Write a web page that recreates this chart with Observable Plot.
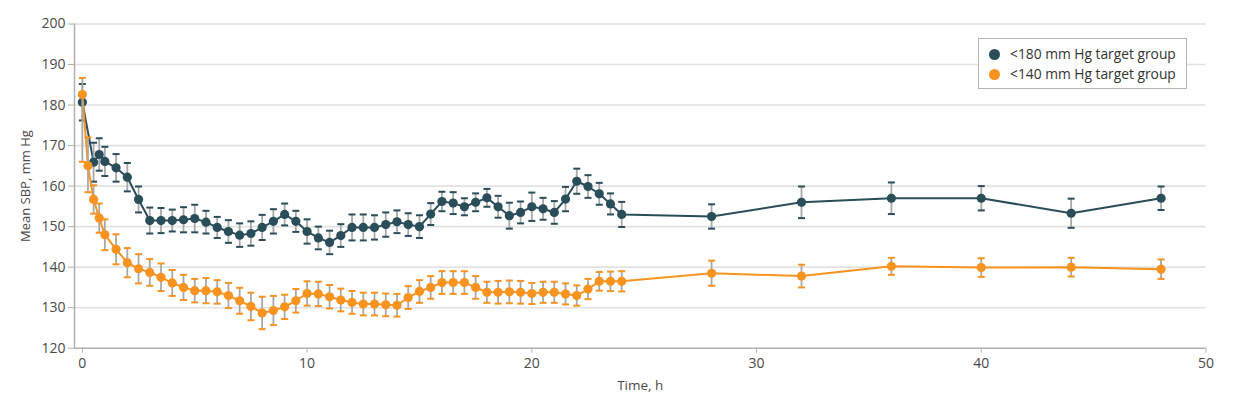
<!DOCTYPE html>
<html>
<head>
<meta charset="utf-8">
<script src="https://cdn.jsdelivr.net/npm/d3@7"></script>
<script src="https://cdn.jsdelivr.net/npm/@observablehq/plot@0.6"></script>
<style>
  body { margin: 0; background: #fff; font-family: "Open Sans", sans-serif; }
  #wrap { position: relative; width: 1256px; height: 394px; overflow: hidden; }
  #legend { position: absolute; left: 978px; top: 38px; width: 207px; height: 49px;
    border: 1px solid #b5b5b5; background: #fff; font-size: 13.8px; color: #333; }
  .item { position: absolute; left: 10px; display: flex; align-items: center; line-height: 16px; }
  .sw { width: 11px; height: 11px; border-radius: 50%; margin-right: 10px; }
</style>
</head>
<body>
<div id="wrap"></div>
<script>
// ---- data ----
const seriesNames = ["<180 mm Hg target group", "<140 mm Hg target group"];
const seriesColors = ["#2a4d5a", "#f7931e"];

const timeHigh = [0, 0.5, 0.75, 1, 1.5, 2, 2.5, 3, 3.5, 4, 4.5, 5, 5.5, 6, 6.5, 7, 7.5, 8, 8.5, 9, 9.5, 10, 10.5, 11, 11.5, 12, 12.5, 13, 13.5, 14, 14.5, 15, 15.5, 16, 16.5, 17, 17.5, 18, 18.5, 19, 19.5, 20, 20.5, 21, 21.5, 22, 22.5, 23, 23.5, 24, 28, 32, 36, 40, 44, 48];
const meanHigh = [180.7, 165.9, 167.8, 166.1, 164.5, 162.2, 156.7, 151.5, 151.5, 151.5, 151.7, 152.0, 151.1, 149.8, 148.8, 147.9, 148.3, 149.8, 151.3, 153.0, 151.3, 148.8, 147.2, 146.1, 147.8, 149.8, 149.8, 149.8, 150.5, 151.2, 150.5, 150.0, 153.1, 156.2, 155.8, 154.9, 156.0, 157.1, 154.9, 152.7, 153.5, 154.9, 154.4, 153.5, 156.8, 161.2, 159.9, 158.1, 155.6, 153.0, 152.5, 156.0, 157.0, 157.0, 153.3, 157.0];
const errHigh = [4.5, 4.8, 4.0, 3.6, 3.4, 3.5, 3.2, 3.2, 3.1, 2.7, 3.1, 3.4, 2.8, 2.6, 2.8, 2.9, 3.0, 3.1, 3.0, 2.7, 2.6, 3.0, 2.8, 2.9, 2.8, 3.2, 3.2, 3.0, 3.0, 2.8, 2.8, 2.8, 2.7, 2.4, 2.7, 2.1, 2.2, 2.2, 2.7, 3.2, 2.7, 3.5, 2.7, 2.8, 3.0, 3.1, 2.8, 2.7, 2.6, 3.1, 3.0, 3.9, 3.9, 3.0, 3.6, 2.9];

const timeLow = [0, 0.25, 0.5, 0.75, 1, 1.5, 2, 2.5, 3, 3.5, 4, 4.5, 5, 5.5, 6, 6.5, 7, 7.5, 8, 8.5, 9, 9.5, 10, 10.5, 11, 11.5, 12, 12.5, 13, 13.5, 14, 14.5, 15, 15.5, 16, 16.5, 17, 17.5, 18, 18.5, 19, 19.5, 20, 20.5, 21, 21.5, 22, 22.5, 23, 23.5, 24, 28, 32, 36, 40, 44, 48];
const meanLow = [182.6, 165.0, 156.7, 152.1, 148.0, 144.4, 141.1, 139.6, 138.7, 137.5, 136.1, 135.0, 134.2, 134.2, 133.9, 133.0, 131.7, 130.3, 128.7, 129.3, 130.2, 131.7, 133.5, 133.4, 132.7, 131.9, 131.3, 130.9, 130.9, 130.7, 130.6, 132.5, 134.0, 135.0, 136.2, 136.2, 136.2, 135.0, 133.8, 133.8, 133.9, 133.8, 133.5, 133.8, 133.8, 133.4, 133.0, 134.6, 136.5, 136.5, 136.5, 138.5, 137.8, 140.2, 139.9, 140.0, 139.5];
const errDownLow = [16.6, 6.5, 3.5, 3.6, 3.8, 3.7, 3.6, 3.6, 3.3, 3.4, 3.2, 3.1, 2.9, 3.1, 2.9, 3.1, 3.2, 3.4, 4.0, 3.6, 3.0, 2.9, 3.0, 3.0, 2.9, 2.8, 2.8, 2.8, 2.8, 2.8, 2.8, 2.8, 2.8, 2.8, 2.8, 2.8, 2.8, 2.8, 2.6, 2.8, 2.8, 2.8, 2.6, 2.6, 2.6, 2.6, 2.5, 2.5, 2.3, 2.4, 2.5, 3.1, 2.8, 2.1, 2.3, 2.3, 2.4];
const errUpLow = [4.1, 7.0, 3.5, 3.6, 3.8, 3.7, 3.6, 3.6, 3.3, 3.4, 3.2, 3.1, 2.9, 3.1, 2.9, 3.1, 3.2, 3.4, 4.0, 3.6, 3.0, 2.9, 3.0, 3.0, 2.9, 2.8, 2.8, 2.8, 2.8, 2.8, 2.8, 2.8, 2.8, 2.8, 2.8, 2.8, 2.8, 2.8, 2.6, 2.8, 2.8, 2.8, 2.6, 2.6, 2.6, 2.6, 2.5, 2.5, 2.3, 2.4, 2.5, 3.1, 2.8, 2.1, 2.3, 2.3, 2.4];

const xTicks = [0, 10, 20, 30, 40, 50];
const yTicks = [120, 130, 140, 150, 160, 170, 180, 190, 200];
const xDomain = [-0.35, 50];
const yDomain = [120, 200];

// ---- build tables ----
const high = timeHigh.map((t, i) => ({t, m: meanHigh[i], lo: meanHigh[i] - errHigh[i], hi: meanHigh[i] + errHigh[i]}));
const low = timeLow.map((t, i) => ({t, m: meanLow[i], lo: meanLow[i] - errDownLow[i], hi: meanLow[i] + errUpLow[i]}));

const cap = {draw(ctx, size) { const r = Math.sqrt(size / Math.PI); ctx.moveTo(-r, 0); ctx.lineTo(r, 0); }};

function seriesMarks(data, color) {
  return [
    Plot.line(data, {x: "t", y: "m", stroke: color, strokeWidth: 2}),
    Plot.ruleX(data, {x: "t", y1: "lo", y2: "hi", stroke: "#a8a8a8", strokeWidth: 1.8}),
    Plot.dot(data, {x: "t", y: "lo", symbol: cap, r: 3.5, stroke: color, strokeWidth: 2, fill: "none"}),
    Plot.dot(data, {x: "t", y: "hi", symbol: cap, r: 3.5, stroke: color, strokeWidth: 2, fill: "none"}),
    Plot.dot(data, {x: "t", y: "m", r: 4.6, fill: color, stroke: "none"})
  ];
}

const chart = Plot.plot({
  width: 1256,
  height: 394,
  marginTop: 23.5,
  marginBottom: 46.3,
  marginLeft: 74,
  marginRight: 50.5,
  style: {fontFamily: "'Open Sans', sans-serif", fontSize: "14px", color: "#4a4a4a", background: "transparent"},
  x: {domain: xDomain},
  y: {domain: yDomain},
  marks: [
    Plot.gridY(yTicks.slice(1), {stroke: "#e2e2e2", strokeOpacity: 1, strokeWidth: 1.6}),
    Plot.ruleY([yDomain[0]], {stroke: "#b0b0b0", strokeWidth: 1.5}),
    Plot.ruleX([xDomain[0]], {stroke: "#b0b0b0", strokeWidth: 1.5}),
    Plot.axisX({ticks: xTicks, tickSize: 5, tickPadding: 5, stroke: "#b0b0b0", fontSize: 14, label: null}),
    Plot.axisX({ticks: [], label: "Time, h", labelAnchor: "center", labelArrow: "none", labelOffset: 42, fontSize: 13.5}),
    Plot.axisY({ticks: yTicks, tickSize: 6, tickPadding: 3, stroke: "#b0b0b0", fontSize: 14, label: null}),
    Plot.axisY({ticks: [], label: "Mean SBP, mm Hg", labelAnchor: "center", labelArrow: "none", labelOffset: 54, fontSize: 13}),
    ...seriesMarks(high, seriesColors[0]),
    ...seriesMarks(low, seriesColors[1])
  ]
});

const wrap = document.getElementById("wrap");
wrap.appendChild(chart);

const legend = document.createElement("div");
legend.id = "legend";
seriesNames.forEach((name, i) => {
  const item = document.createElement("div");
  item.className = "item";
  item.style.top = (7 + i * 20) + "px";
  const sw = document.createElement("span");
  sw.className = "sw";
  sw.style.background = seriesColors[i];
  const tx = document.createElement("span");
  tx.textContent = name;
  item.appendChild(sw);
  item.appendChild(tx);
  legend.appendChild(item);
});
wrap.appendChild(legend);
</script>
</body>
</html>
